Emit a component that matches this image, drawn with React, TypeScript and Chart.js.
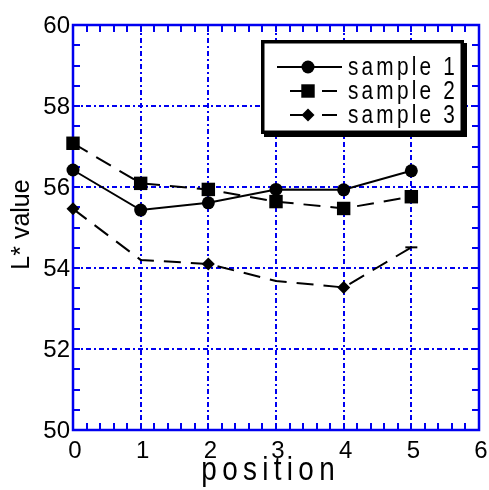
import React, { useEffect, useRef } from 'react';
import { Chart, registerables } from 'chart.js';

Chart.register(...registerables);

// ---- data ----
const positions = [0, 1, 2, 3, 4, 5];
const sample1 = [56.42, 55.43, 55.61, 55.94, 55.93, 56.40];
const sample2 = [57.08, 56.09, 55.94, 55.64, 55.47, 55.76];
const sample3 = [55.46, 54.20, 54.10, 53.68, 53.52, 54.51];
const seriesNames = ['sample 1', 'sample 2', 'sample 3'];
const xTickValues = [0, 1, 2, 3, 4, 5, 6];
const yTickValues = [50, 52, 54, 56, 58, 60];
const xTitle = 'position';
const yTitle = 'L* value';

const X_MIN = 0, X_MAX = 6, Y_MIN = 50, Y_MAX = 60;
const X_MINOR = 0.2, Y_MINOR = 0.5;
const BLUE = '#0000f0';
const FONT = '"Liberation Sans", Arial, sans-serif';

function narrowText(ctx: CanvasRenderingContext2D, text: string, x: number, y: number, size: number, spacing: number, squeeze: number, align: 'left' | 'center') {
  ctx.save();
  ctx.font = `${size}px ${FONT}`;
  (ctx as any).letterSpacing = `${spacing}px`;
  ctx.textBaseline = 'alphabetic';
  ctx.textAlign = 'left';
  const w = ctx.measureText(text).width - spacing;
  ctx.translate(x, y);
  ctx.scale(squeeze, 1);
  ctx.fillStyle = '#000';
  ctx.fillText(text, align === 'center' ? -w / 2 : 0, 0);
  ctx.restore();
}

function marker(ctx: CanvasRenderingContext2D, style: string, x: number, y: number, r: number) {
  ctx.beginPath();
  if (style === 'circle') {
    ctx.arc(x, y, r, 0, Math.PI * 2);
  } else if (style === 'rect') {
    const s = r * Math.SQRT1_2;
    ctx.rect(x - s, y - s, 2 * s, 2 * s);
  } else {
    ctx.moveTo(x - r, y);
    ctx.lineTo(x, y - r);
    ctx.lineTo(x + r, y);
    ctx.lineTo(x, y + r);
    ctx.closePath();
  }
  ctx.fillStyle = '#000';
  ctx.fill();
}

const framePlugin = {
  id: 'frame',
  beforeDatasetsDraw(chart: any) {
    const { ctx, chartArea: a, scales } = chart;
    const x = scales.x, y = scales.y;
    ctx.save();
    // dash-dot grid
    ctx.strokeStyle = BLUE;
    ctx.lineWidth = 2;
    ctx.setLineDash([5, 3, 2, 3]);
    for (const t of xTickValues) {
      if (t === X_MIN || t === X_MAX) continue;
      const px = Math.round(x.getPixelForValue(t));
      ctx.beginPath();
      ctx.moveTo(px, a.top);
      ctx.lineTo(px, a.bottom);
      ctx.stroke();
    }
    for (const t of yTickValues) {
      if (t === Y_MIN || t === Y_MAX) continue;
      const py = Math.round(y.getPixelForValue(t));
      ctx.beginPath();
      ctx.moveTo(a.left, py);
      ctx.lineTo(a.right, py);
      ctx.stroke();
    }
    ctx.setLineDash([]);
    // inward ticks on all four sides
    ctx.lineWidth = 2;
    const L = 7;
    const nx = Math.round((X_MAX - X_MIN) / X_MINOR);
    for (let i = 1; i < nx; i++) {
      const px = Math.round(x.getPixelForValue(X_MIN + i * X_MINOR));
      ctx.beginPath();
      ctx.moveTo(px, a.bottom);
      ctx.lineTo(px, a.bottom - L);
      ctx.moveTo(px, a.top);
      ctx.lineTo(px, a.top + L);
      ctx.stroke();
    }
    const ny = Math.round((Y_MAX - Y_MIN) / Y_MINOR);
    for (let i = 1; i < ny; i++) {
      const py = Math.round(y.getPixelForValue(Y_MIN + i * Y_MINOR));
      ctx.beginPath();
      ctx.moveTo(a.left, py);
      ctx.lineTo(a.left + L, py);
      ctx.moveTo(a.right, py);
      ctx.lineTo(a.right - L, py);
      ctx.stroke();
    }
    // frame
    ctx.lineWidth = 2.5;
    ctx.strokeRect(a.left, a.top, a.right - a.left, a.bottom - a.top);

    // tick labels
    ctx.fillStyle = '#000';
    ctx.font = `24px ${FONT}`;
    ctx.textAlign = 'right';
    ctx.textBaseline = 'middle';
    for (const t of yTickValues) {
      ctx.fillText(String(t), a.left - 3, y.getPixelForValue(t) + 1);
    }
    ctx.textAlign = 'center';
    ctx.textBaseline = 'top';
    for (const t of xTickValues) {
      ctx.fillText(String(t), x.getPixelForValue(t) + 2, a.bottom + 9);
    }
    ctx.restore();
  },
  afterDatasetsDraw(chart: any) {
    const { ctx, chartArea: a } = chart;
    ctx.save();
    // y title
    ctx.save();
    ctx.translate(22, (a.top + a.bottom) / 2 - 3);
    ctx.rotate(-Math.PI / 2);
    ctx.font = `25px ${FONT}`;
    ctx.fillStyle = '#000';
    ctx.textAlign = 'center';
    ctx.textBaseline = 'middle';
    ctx.fillText(yTitle, 0, 0);
    ctx.restore();
    // x title
    narrowText(ctx, xTitle, (a.left + a.right) / 2 - 8, 480, 34, 6.5, 0.82, 'center');

    // legend box
    const bx = 261, by = 40, bw = 203, bh = 94;
    ctx.fillStyle = '#000';
    ctx.fillRect(bx + 3, by + 3, bw, bh);
    ctx.fillRect(bx, by, bw, bh);
    ctx.fillStyle = '#fff';
    ctx.fillRect(bx + 3.5, by + 3.5, bw - 7, bh - 7);

    const rows = [67, 91, 115];
    const styles = ['circle', 'rect', 'diamond'];
    const radii = [6.5, 9.5, 6.5];
    ctx.strokeStyle = '#000';
    ctx.lineWidth = 2;
    rows.forEach((ry, i) => {
      ctx.beginPath();
      if (i === 0) {
        ctx.moveTo(277, ry);
        ctx.lineTo(342, ry);
      } else {
        ctx.moveTo(290, ry);
        ctx.lineTo(304, ry);
        ctx.moveTo(322, ry);
        ctx.lineTo(337, ry);
      }
      ctx.stroke();
      marker(ctx, styles[i], 308, ry, radii[i]);
      narrowText(ctx, seriesNames[i], 348, ry + 8, 26, 4, 0.8, 'left');
    });
    ctx.restore();
  },
};

export default function App() {
  const ref = useRef<HTMLCanvasElement | null>(null);
  useEffect(() => {
    if (!ref.current) return;
    const mk = (arr: number[]) => positions.map((p, i) => ({ x: p, y: arr[i] }));
    const chart = new Chart(ref.current, {
      type: 'line',
      data: {
        datasets: [
          {
            label: seriesNames[0],
            data: mk(sample1),
            borderColor: '#000',
            backgroundColor: '#000',
            borderWidth: 2,
            pointStyle: 'circle',
            pointRadius: 6.5,
            pointBorderWidth: 0,
            tension: 0,
            clip: false as any,
          },
          {
            label: seriesNames[1],
            data: mk(sample2),
            borderColor: '#000',
            backgroundColor: '#000',
            borderWidth: 2,
            borderDash: [17, 10],
            pointStyle: 'rect',
            pointRadius: 9.5,
            pointBorderWidth: 0,
            tension: 0,
            clip: false as any,
          },
          {
            label: seriesNames[2],
            data: mk(sample3),
            borderColor: '#000',
            backgroundColor: '#000',
            borderWidth: 2,
            borderDash: [17, 10],
            pointStyle: ['rectRot', 'line', 'rectRot', 'line', 'rectRot', 'line'] as any,
            pointRadius: [6.5, 0, 6.5, 0, 6.5, 6],
            pointBorderWidth: [0, 2, 0, 2, 0, 2],
            pointBorderColor: '#000',
            tension: 0,
            clip: false as any,
          },
        ],
      },
      options: {
        animation: false,
        responsive: false,
        layout: { padding: { left: 73, top: 25, right: 10, bottom: 60 } },
        plugins: { legend: { display: false }, tooltip: { enabled: false } },
        scales: {
          x: {
            type: 'linear',
            min: X_MIN,
            max: X_MAX,
            afterFit: (s: any) => { s.height = 0; },
            grid: { display: false, drawTicks: false },
            border: { display: false },
            ticks: { display: false, stepSize: 1 },
          },
          y: {
            type: 'linear',
            min: Y_MIN,
            max: Y_MAX,
            afterFit: (s: any) => { s.width = 0; },
            grid: { display: false, drawTicks: false },
            border: { display: false },
            ticks: { display: false, stepSize: 2 },
          },
        },
      },
      plugins: [framePlugin],
    });
    return () => chart.destroy();
  }, []);
  return (
    <div style={{ position: 'absolute', left: 0, top: 0, width: 489, height: 490, background: '#fff' }}>
      <canvas ref={ref} width={489} height={490} style={{ display: 'block' }} />
    </div>
  );
}
